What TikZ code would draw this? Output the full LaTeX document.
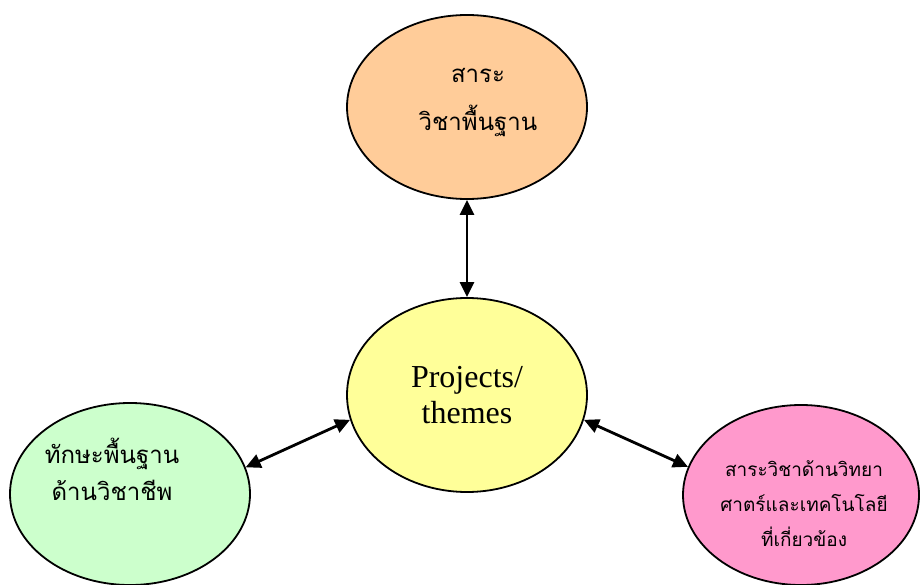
\documentclass[tikz,border=0pt]{standalone}
\usepackage{fontspec}
\setmainfont{Liberation Serif}
\newfontfamily\thaifont[Script=Thai]{Loma}
\usetikzlibrary{shapes.geometric,arrows.meta}

\definecolor{coreorange}{HTML}{FFCC99}
\definecolor{projyellow}{HTML}{FFFF99}
\definecolor{skillgreen}{HTML}{CCFFCC}
\definecolor{scipink}{HTML}{FF99CC}

\begin{document}
\begin{tikzpicture}[x=1pt,y=-1pt,>={Triangle[length=15pt,width=14pt]},
  bubble/.style={ellipse,draw,line width=1.8pt,inner sep=0pt,align=center,minimum width=240pt,minimum height=184pt},
  thaitext/.style={align=center,inner sep=0pt},
  link/.style={<->,line width=2.8pt}]

                \useasboundingbox (0,0) rectangle (920,585);

                \node[bubble, fill=projyellow, minimum height=194pt, font=\fontsize{32}{36}\selectfont] (proj) at (467,395)
                    {Projects/\\themes};
                \node[bubble, fill=coreorange,
                      label={[name=coretext, thaitext, font=\thaifont\fontsize{24}{48}\selectfont, xshift=11pt, yshift=4pt]center:สาระ\\วิชาพื้นฐาน}]
                      (core) at (467,107) {};
                \node[bubble, fill=skillgreen, minimum height=182pt,
                      label={[name=skilltext, thaitext, font=\thaifont\fontsize{24}{37}\selectfont, xshift=-18pt, yshift=25pt]center:ทักษะพื้นฐาน\\ด้านวิชาชีพ}]
                      (skill) at (130,494) {};
                \node[bubble, fill=scipink, minimum width=236pt, minimum height=180pt,
                      label={[name=scitext, thaitext, font=\thaifont\fontsize{19}{35}\selectfont, xshift=3pt, yshift=-9pt]center:สาระวิชาด้านวิทยา\\ศาตร์และเทคโนโลยี\\ที่เกี่ยวข้อง}]
                      (sci) at (801,495) {};

                \draw[link] (core.south) to (proj.north);
                \draw[link] (skill.13) to (proj.192);
                \draw[link] (proj.348) to (sci.166);

            \end{tikzpicture}
\end{document}
